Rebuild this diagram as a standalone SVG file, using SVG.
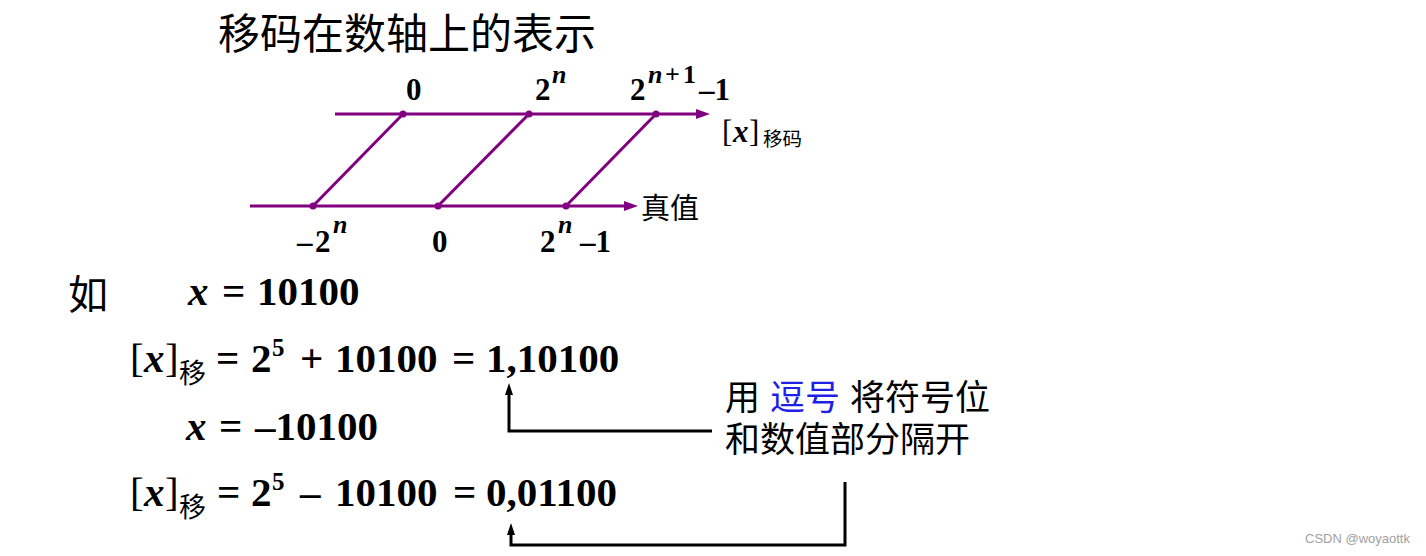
<svg xmlns="http://www.w3.org/2000/svg" width="1426" height="556" viewBox="0 0 1426 556">
<style>
.cjk{font-family:"Noto Sans CJK SC","Noto Sans",sans-serif;fill:#000}
.tnr{font-family:"Liberation Serif",serif;font-weight:bold;fill:#000}
.reg{font-weight:normal}
.it{font-style:italic}
.ax{stroke:#800080;stroke-width:3;fill:none}
.diag{stroke:#800080;stroke-width:3;fill:none}
.dot{fill:#800080}
.bk{stroke:#000;stroke-width:3;fill:none}
.lbl{font-size:31px}
.sup{font-size:26px}
.eq{font-size:41px}
</style>
<defs>
<marker id="pa" markerUnits="userSpaceOnUse" markerWidth="16" markerHeight="12" refX="2" refY="5" orient="auto"><path d="M0,0 L14,5 L0,10 z" fill="#800080"/></marker>
<marker id="ba" markerUnits="userSpaceOnUse" markerWidth="14" markerHeight="10" refX="2" refY="4" orient="auto"><path d="M0,0 L12,4 L0,8 z" fill="#000"/></marker>
</defs>
<rect width="1426" height="556" fill="#fff"/>

<g id="title"><text class="cjk" x="218" y="49" font-size="42">移码在数轴上的表示</text></g>

<g id="axis-code">
<text class="tnr lbl" x="406" y="100">0</text>
<text class="tnr lbl" x="535" y="100">2</text><text class="tnr sup it" x="552" y="83">n</text>
<text class="tnr lbl" x="630" y="100">2</text><text class="tnr sup it" x="648" y="83">n</text><text class="tnr sup" x="665" y="83">+</text><text class="tnr sup" x="683" y="83">1</text><text class="tnr lbl" x="699" y="100">–1</text>
<text class="tnr lbl" y="142"><tspan class="reg" x="722">[</tspan><tspan class="it" x="733">x</tspan><tspan class="reg" x="749">]</tspan></text>
<text class="cjk" x="763" y="146" font-size="19.5">移码</text>
</g>
<g id="axis-true">
<text class="cjk" x="641" y="219" font-size="29">真值</text>
<text class="tnr lbl" x="297" y="252">–</text><text class="tnr lbl" x="315" y="252">2</text><text class="tnr sup it" x="333" y="233">n</text>
<text class="tnr lbl" x="432" y="252">0</text>
<text class="tnr lbl" x="540" y="252">2</text><text class="tnr sup it" x="558" y="233">n</text><text class="tnr lbl" x="580" y="252">–1</text>
</g>

<g id="connectors">
<path class="ax" d="M335,114 H698" marker-end="url(#pa)"/>
<path class="ax" d="M250,206 H626" marker-end="url(#pa)"/>
<path class="diag" d="M313,206 L403,114 M438,206 L529,114 M566,206 L656,114"/>
<circle class="dot" cx="403" cy="114" r="3.5"/><circle class="dot" cx="529" cy="114" r="3.5"/><circle class="dot" cx="656" cy="114" r="3.5"/>
<circle class="dot" cx="313" cy="206" r="3.5"/><circle class="dot" cx="438" cy="206" r="3.5"/><circle class="dot" cx="566" cy="206" r="3.5"/>
<path class="bk" d="M712,431 H509 V393" marker-end="url(#ba)"/>
<path class="bk" d="M845,482 V545 H511 V533" marker-end="url(#ba)"/>
</g>

<g id="example-label"><text class="cjk" x="68" y="309" font-size="40">如</text></g>
<g id="line1">
<text class="tnr eq" y="305"><tspan class="it" x="188">x</tspan><tspan x="222">=</tspan><tspan x="257">10100</tspan></text>
</g>
<g id="line2">
<text class="tnr eq" y="372"><tspan class="reg" x="130">[</tspan><tspan class="it" x="144">x</tspan><tspan class="reg" x="165">]</tspan><tspan x="216">=</tspan><tspan x="251">2</tspan><tspan x="300">+</tspan><tspan x="335">10100</tspan><tspan x="452">=</tspan><tspan x="486">1,10100</tspan></text>
<text class="tnr" x="272" y="356" font-size="25">5</text>
<text class="cjk" x="179" y="383" font-size="27">移</text>
</g>
<g id="line3">
<text class="tnr eq" y="440"><tspan class="it" x="186">x</tspan><tspan x="219">=</tspan><tspan x="255">–10100</tspan></text>
</g>
<g id="line4">
<text class="tnr eq" y="506"><tspan class="reg" x="130">[</tspan><tspan class="it" x="144">x</tspan><tspan class="reg" x="165">]</tspan><tspan x="217">=</tspan><tspan x="251">2</tspan><tspan x="300">–</tspan><tspan x="335">10100</tspan><tspan x="453">=</tspan><tspan x="486">0,01100</tspan></text>
<text class="tnr" x="272" y="490" font-size="25">5</text>
<text class="cjk" x="179" y="517" font-size="27">移</text>
</g>

<g id="note">
<text class="cjk" y="410" font-size="35"><tspan x="725">用</tspan><tspan x="770" fill="#1f1fe6">逗号</tspan><tspan x="850">将符号位</tspan></text>
<text class="cjk" x="725" y="452" font-size="35">和数值部分隔开</text>
</g>

<g id="watermark"><text x="1305" y="543" font-family="Liberation Sans, Arial, sans-serif" font-size="13" fill="#a0a0a0">CSDN @woyaottk</text></g>
</svg>
